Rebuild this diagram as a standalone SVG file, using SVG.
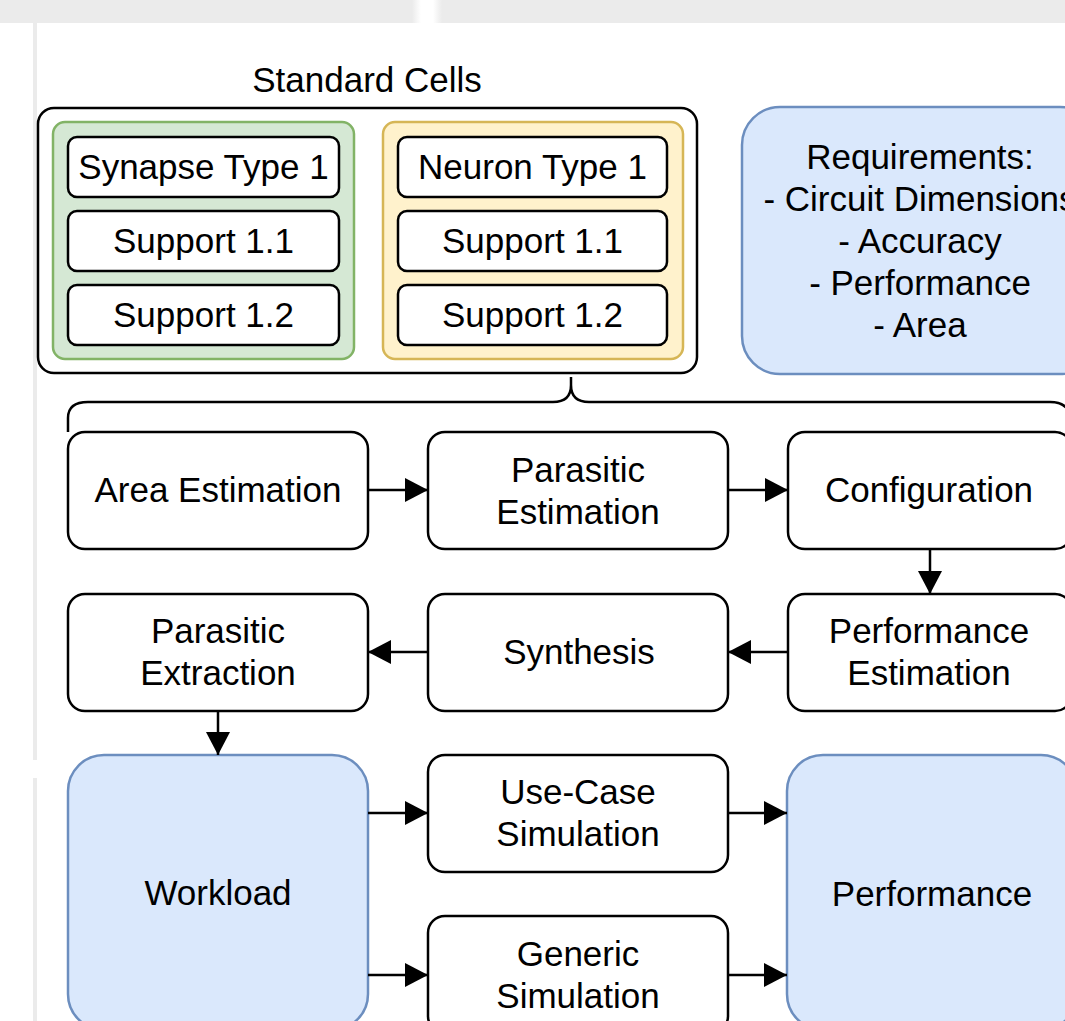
<svg xmlns="http://www.w3.org/2000/svg" width="1065" height="1021" viewBox="0 0 1065 1021">
<style>
.t{font-family:"Liberation Sans",Arial,Helvetica,sans-serif;font-size:35px;fill:#000;text-anchor:middle}
.w{fill:#fff;stroke:#000;stroke-width:2.5}
.b{fill:#dae8fc;stroke:#6c8ebf;stroke-width:2.5}
.c{fill:none;stroke:#000;stroke-width:2.5}
</style>
<defs>
<linearGradient id="gap" x1="0" x2="1" y1="0" y2="0">
<stop offset="0" stop-color="#ebebeb"/>
<stop offset="0.3" stop-color="#ffffff"/>
<stop offset="0.7" stop-color="#ffffff"/>
<stop offset="1" stop-color="#ebebeb"/>
</linearGradient>
<marker id="ah" markerUnits="userSpaceOnUse" markerWidth="26" markerHeight="26" refX="23" refY="12" orient="auto">
<path d="M0,0 L23,12 L0,24 Z" fill="#000"/>
</marker>
</defs>
<rect width="1065" height="1021" fill="#fff"/>
<g id="chrome">
<rect x="0" y="0" width="1065" height="23" fill="#ebebeb"/>
<rect x="412" y="0" width="30" height="23" fill="url(#gap)"/>
<rect x="33" y="23" width="4" height="737" fill="#ebebeb"/>
<rect x="33" y="778" width="4" height="243" fill="#ebebeb"/>
</g>
<g id="standard-cells">
<text class="t" x="367" y="92">Standard Cells</text>
<rect x="38" y="108" width="659" height="265" rx="16" class="w"/>
</g>
<g id="synapse-group">
<rect x="53" y="122" width="301" height="237" rx="12" fill="#d5e8d4" stroke="#82b366" stroke-width="2.5"/>
</g>
<g id="synapse-type-1"><rect x="68" y="137" width="271" height="60" rx="9" class="w"/><text class="t" x="203.5" y="179">Synapse Type 1</text></g>
<g id="synapse-support-1-1"><rect x="68" y="211" width="271" height="60" rx="9" class="w"/><text class="t" x="203.5" y="253">Support 1.1</text></g>
<g id="synapse-support-1-2"><rect x="68" y="285" width="271" height="60" rx="9" class="w"/><text class="t" x="203.5" y="327">Support 1.2</text></g>
<g id="neuron-group">
<rect x="383" y="122" width="300" height="237" rx="12" fill="#fff2cc" stroke="#d6b656" stroke-width="2.5"/>
</g>
<g id="neuron-type-1"><rect x="398" y="137" width="269" height="60" rx="9" class="w"/><text class="t" x="532.5" y="179">Neuron Type 1</text></g>
<g id="neuron-support-1-1"><rect x="398" y="211" width="269" height="60" rx="9" class="w"/><text class="t" x="532.5" y="253">Support 1.1</text></g>
<g id="neuron-support-1-2"><rect x="398" y="285" width="269" height="60" rx="9" class="w"/><text class="t" x="532.5" y="327">Support 1.2</text></g>
<g id="requirements">
<rect x="742" y="107" width="356" height="267" rx="38" class="b"/>
<text class="t" x="920" y="169">Requirements:</text>
<text class="t" x="920" y="211">- Circuit Dimensions</text>
<text class="t" x="920" y="253">- Accuracy</text>
<text class="t" x="920" y="295">- Performance</text>
<text class="t" x="920" y="337">- Area</text>
</g>
<g id="area-estimation"><rect x="68" y="432" width="300" height="117" rx="17" class="w"/><text class="t" x="218" y="502">Area Estimation</text></g>
<g id="parasitic-estimation"><rect x="428" y="432" width="300" height="117" rx="17" class="w"/><text class="t" x="578" y="482">Parasitic</text><text class="t" x="578" y="524">Estimation</text></g>
<g id="configuration"><rect x="788" y="432" width="284" height="117" rx="17" class="w"/><text class="t" x="929" y="502">Configuration</text></g>
<g id="parasitic-extraction"><rect x="68" y="594" width="300" height="117" rx="17" class="w"/><text class="t" x="218" y="643">Parasitic</text><text class="t" x="218" y="685">Extraction</text></g>
<g id="synthesis"><rect x="428" y="594" width="300" height="117" rx="17" class="w"/><text class="t" x="579" y="664">Synthesis</text></g>
<g id="performance-estimation"><rect x="788" y="594" width="284" height="117" rx="17" class="w"/><text class="t" x="929" y="643">Performance</text><text class="t" x="929" y="685">Estimation</text></g>
<g id="workload"><rect x="68" y="755" width="300" height="275" rx="36" class="b"/><text class="t" x="218" y="905">Workload</text></g>
<g id="use-case-simulation"><rect x="428" y="755" width="300" height="117" rx="17" class="w"/><text class="t" x="578" y="804">Use-Case</text><text class="t" x="578" y="846">Simulation</text></g>
<g id="generic-simulation"><rect x="428" y="916" width="300" height="117" rx="17" class="w"/><text class="t" x="578" y="966">Generic</text><text class="t" x="578" y="1008">Simulation</text></g>
<g id="performance"><rect x="787" y="755" width="290" height="275" rx="36" class="b"/><text class="t" x="932" y="906">Performance</text></g>
<g id="connectors">
<path class="c" d="M68,432 L68,418 Q68,402 88,402 L553,402 C565,402 571,396 571,385 L571,377 M571,385 C571,396 577,402 589,402 L1050,402 Q1070,402 1070,420 L1070,432"/>
<path class="c" d="M368,490 L428,490" marker-end="url(#ah)"/>
<path class="c" d="M728,490 L788,490" marker-end="url(#ah)"/>
<path class="c" d="M930,549 L930,594" marker-end="url(#ah)"/>
<path class="c" d="M788,652 L728,652" marker-end="url(#ah)"/>
<path class="c" d="M428,652 L368,652" marker-end="url(#ah)"/>
<path class="c" d="M218,711 L218,755" marker-end="url(#ah)"/>
<path class="c" d="M368,813 L428,813" marker-end="url(#ah)"/>
<path class="c" d="M368,975 L428,975" marker-end="url(#ah)"/>
<path class="c" d="M728,813 L787,813" marker-end="url(#ah)"/>
<path class="c" d="M728,975 L787,975" marker-end="url(#ah)"/>
</g>
</svg>
